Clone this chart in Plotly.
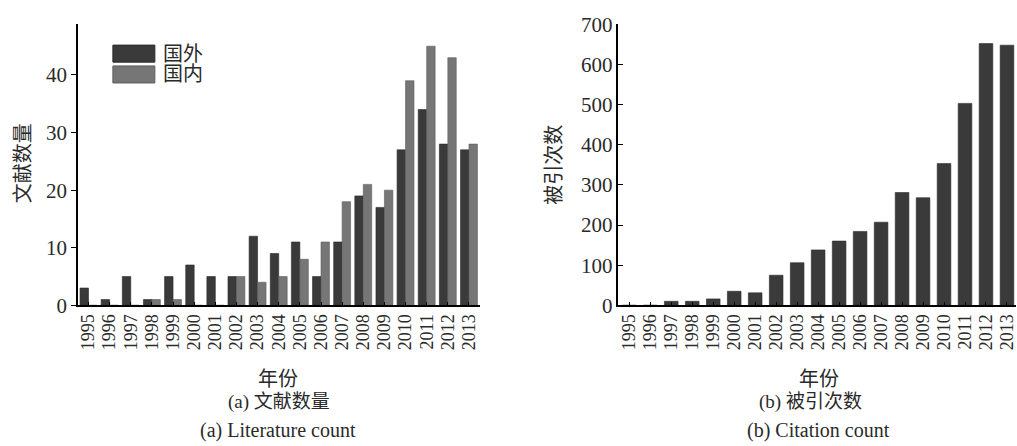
import plotly.graph_objects as go

# Publication years shared by both panels
years = [str(y) for y in range(1995, 2014)]

# (a) Number of papers per year
foreign_papers = [3, 1, 5, 1, 5, 7, 5, 5, 12, 9, 11, 5, 11, 19, 17, 27, 34, 28, 27]
domestic_papers = [0, 0, 0, 1, 1, 0, 0, 5, 4, 5, 8, 11, 18, 21, 20, 39, 45, 43, 28]

# (b) Citations per year
citations = [0, 0, 10, 10, 16, 35, 31, 75, 106, 138, 160, 184, 207, 281, 268, 353, 503, 652, 648]

left_ticks = [0, 10, 20, 30, 40]
right_ticks = [0, 100, 200, 300, 400, 500, 600, 700]

W, H = 1017, 446
DARK = "#3a3a3a"
LIGHT = "#767676"
TEXT = "#2a2a2a"
FONT = "Liberation Serif, Noto Sans CJK SC, serif"


def px(x):
    return x / W


def py(y):
    return 1 - y / H


fig = go.Figure()

fig.add_trace(go.Bar(
    x=years, y=foreign_papers, name="国外",
    marker=dict(color=DARK, line=dict(color="#2a2a2a", width=0.6)),
    xaxis="x", yaxis="y", showlegend=False,
))
fig.add_trace(go.Bar(
    x=years, y=domestic_papers, name="国内",
    marker=dict(color=LIGHT, line=dict(color="#5e5e5e", width=0.6)),
    xaxis="x", yaxis="y", showlegend=False,
))
fig.add_trace(go.Bar(
    x=years, y=citations, name="被引次数", width=0.65,
    marker=dict(color=DARK, line=dict(color="#2a2a2a", width=0.6)),
    xaxis="x2", yaxis="y2", showlegend=False,
))

y_dom = [py(310), py(13)]

# every year gets its own label, no auto-thinning
common_x = dict(
    type="category", tickmode="array", tickvals=years, ticktext=years,
    showline=True, linecolor="black", linewidth=1.5,
    ticks="inside", ticklen=4, tickwidth=1.2, tickcolor="black",
    tickangle=-90, tickfont=dict(family=FONT, size=18, color=TEXT),
    showgrid=False, zeroline=False, fixedrange=True,
)

fig.update_layout(
    width=W, height=H,
    margin=dict(l=0, r=0, t=0, b=0),
    paper_bgcolor="white", plot_bgcolor="white",
    barmode="group", bargap=0.2, bargroupgap=0,
    font=dict(family=FONT, color=TEXT),
    xaxis=dict(domain=[px(78), px(480)], range=[-0.5, 18.5], anchor="y", **common_x),
    yaxis=dict(
        domain=y_dom, range=[0, 48.8], anchor="x",
        tickvals=left_ticks, ticks="outside", ticklen=5, tickwidth=1.2, tickcolor="black",
        showline=True, linecolor="black", linewidth=1.5,
        showgrid=False, zeroline=False,
        tickfont=dict(family=FONT, size=21, color=TEXT),
    ),
    xaxis2=dict(domain=[px(619), 1.0], range=[-0.52, 18.43], anchor="y2", **common_x),
    yaxis2=dict(
        domain=y_dom, range=[0, 700], anchor="x2",
        tickvals=right_ticks, ticks="inside", ticklen=5, tickwidth=1.2, tickcolor="black",
        showline=True, linecolor="black", linewidth=1.5,
        showgrid=False, zeroline=False,
        tickfont=dict(family=FONT, size=21, color=TEXT),
    ),
)

# Hand-drawn legend for panel (a)
legend_items = [("国外", DARK, "#2a2a2a", 35, 53), ("国内", LIGHT, "#5e5e5e", 57, 75)]
for label, fill, edge, top, bottom in legend_items:
    fig.add_shape(
        type="rect", xref="paper", yref="paper",
        x0=px(113), x1=px(155), y0=py(bottom), y1=py(top),
        fillcolor=fill, line=dict(color=edge, width=1),
    )
    fig.add_annotation(
        x=px(161), y=py((top + bottom) / 2), xref="paper", yref="paper",
        text=label, showarrow=False, xanchor="left", yanchor="middle",
        font=dict(family=FONT, size=20, color=TEXT),
    )

texts = [
    # axis titles
    ("文献数量", 23, 160, 20, -90),
    ("被引次数", 555, 161, 20, -90),
    ("年份", 278, 388, 20, 0),
    ("年份", 820, 388, 20, 0),
    # panel captions
    ("(a) 文献数量", 279, 412, 19, 0),
    ("(a) Literature count", 278, 442, 20, 0),
    ("(b) 被引次数", 811, 412, 19, 0),
    ("(b) Citation count", 819, 442, 20, 0),
]
for text, x, y, size, angle in texts:
    fig.add_annotation(
        x=px(x), y=py(y), xref="paper", yref="paper",
        text=text, showarrow=False, xanchor="center", yanchor="middle",
        textangle=angle, font=dict(family=FONT, size=size, color=TEXT),
    )

fig.write_html("out.html")
